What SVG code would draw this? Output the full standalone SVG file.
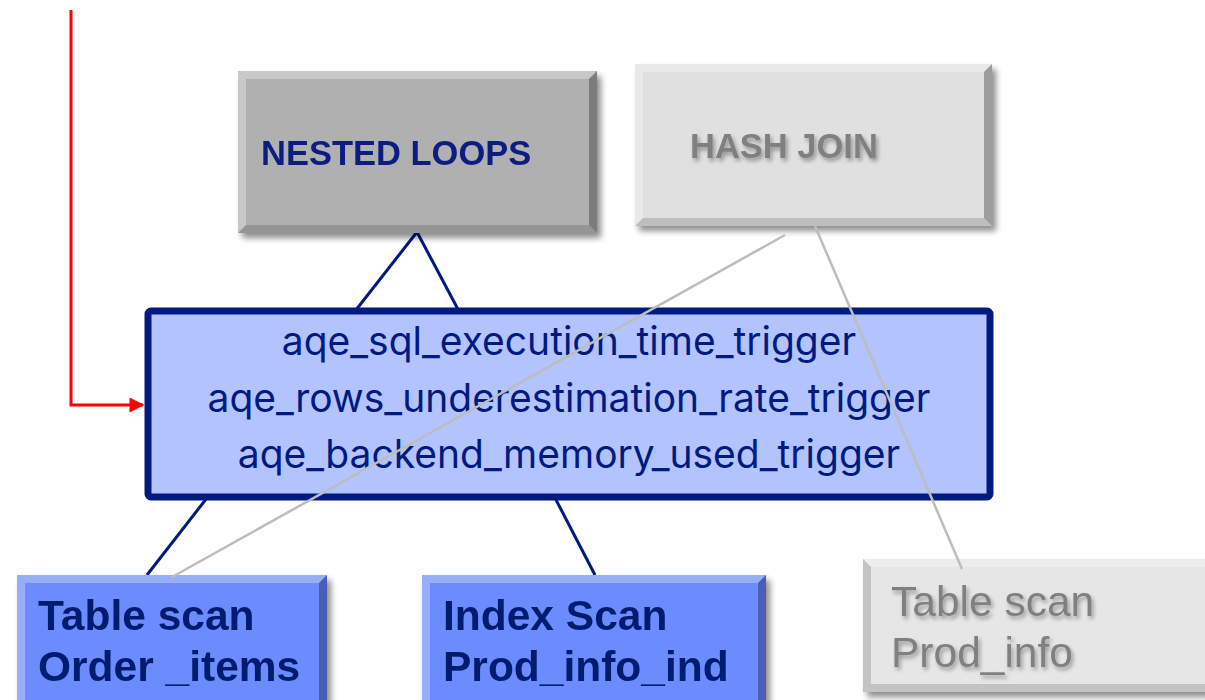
<svg xmlns="http://www.w3.org/2000/svg" width="1205" height="700" viewBox="0 0 1205 700">
  <defs>
    <filter id="drop" x="-10%" y="-10%" width="125%" height="130%">
      <feGaussianBlur in="SourceAlpha" stdDeviation="3"/>
      <feOffset dx="4" dy="5" result="b"/>
      <feComponentTransfer><feFuncA type="linear" slope="0.45"/></feComponentTransfer>
      <feMerge><feMergeNode/><feMergeNode in="SourceGraphic"/></feMerge>
    </filter>
    <filter id="txtshadow" x="-10%" y="-20%" width="125%" height="160%">
      <feGaussianBlur in="SourceAlpha" stdDeviation="2"/>
      <feOffset dx="2" dy="3"/>
      <feComponentTransfer><feFuncA type="linear" slope="0.35"/></feComponentTransfer>
      <feMerge><feMergeNode/><feMergeNode in="SourceGraphic"/></feMerge>
    </filter>
    <marker id="redArrow" viewBox="0 0 10 10" refX="9" refY="5" markerWidth="5.5" markerHeight="5" orient="auto" markerUnits="strokeWidth">
      <path d="M0,0 L10,5 L0,10 z" fill="#FF0000"/>
    </marker>
  </defs>
  <style>
    .navyLine { stroke: #001A80; stroke-width: 3; fill: none; }
    .grayLine { stroke: #BDBDBD; stroke-width: 2.5; fill: none; }
    .hi { fill: #FFFFFF; opacity: 0.3; }
    .lo { fill: #000000; opacity: 0.15; }
    .loDeep { fill: #000000; opacity: 0.3; }
    .opText { font-family: "Liberation Sans", Arial, sans-serif; font-weight: bold; font-size: 34.5px; }
    .trig { font-family: Inter, "Liberation Sans", sans-serif; font-size: 39px; fill: #001A80; text-anchor: middle; }
    .scanText { font-family: "Liberation Sans", Arial, sans-serif; font-weight: bold; font-size: 42.5px; fill: #061A6E; }
    .ghostText { font-family: "Liberation Sans", Arial, sans-serif; font-size: 42.5px; fill: #808080; }
  </style>

  <rect width="1205" height="700" fill="#FFFFFF"/>

  <!-- tree edges below the trigger box -->
  <g id="connectors">
    <line class="navyLine" x1="417" y1="232" x2="352" y2="315"/>
    <line class="navyLine" x1="417" y1="232" x2="461" y2="315"/>
    <line class="navyLine" x1="210" y1="494" x2="147" y2="575"/>
    <line class="navyLine" x1="553" y1="494" x2="595" y2="575"/>
    <path d="M71,10 V405 H143" stroke="#FF0000" stroke-width="3" fill="none" marker-end="url(#redArrow)"/>
  </g>

  <!-- NESTED LOOPS -->
  <g id="node-nested-loops" filter="url(#drop)">
    <rect x="238" y="71" width="359" height="162" fill="#B0B0B0"/>
    <polygon class="hi" points="238,71 597,71 589,79 246,79"/>
    <polygon class="hi" points="238,71 246,79 246,225 238,233"/>
    <polygon class="lo" points="238,233 246,225 589,225 597,233"/>
    <polygon class="loDeep" points="597,71 597,233 589,225 589,79"/>
    <text class="opText" x="261" y="165" fill="#0A1F80">NESTED LOOPS</text>
  </g>

  <!-- HASH JOIN -->
  <g id="node-hash-join" filter="url(#drop)">
    <rect x="635" y="64" width="357" height="162" fill="#E0E0E0"/>
    <polygon class="hi" points="635,64 992,64 984,72 643,72"/>
    <polygon class="hi" points="635,64 643,72 643,218 635,226"/>
    <polygon class="lo" points="635,226 643,218 984,218 992,226"/>
    <polygon class="loDeep" points="992,64 992,226 984,218 984,72"/>
    <text class="opText" x="690" y="158" fill="#808080" filter="url(#txtshadow)">HASH JOIN</text>
  </g>

  <!-- adaptive trigger box -->
  <g id="node-triggers">
    <rect x="148" y="311" width="842" height="186" rx="3" fill="#B3C3FF" stroke="#001A80" stroke-width="7"/>
    <text class="trig" x="569" y="355">aqe_sql_execution_time_trigger</text>
    <text class="trig" x="569" y="412">aqe_rows_underestimation_rate_trigger</text>
    <text class="trig" x="569" y="468">aqe_backend_memory_used_trigger</text>
  </g>

  <!-- Table scan Order _items -->
  <g id="node-table-scan-order-items" filter="url(#drop)">
    <rect x="17" y="575" width="310" height="135" fill="#6A8CFF"/>
    <polygon class="hi" points="17,575 327,575 319,583 25,583"/>
    <polygon class="hi" points="17,575 25,583 25,710 17,710"/>
    <polygon class="loDeep" points="327,575 327,710 319,710 319,583"/>
    <text class="scanText" x="38" y="630">Table scan</text>
    <text class="scanText" x="38" y="681">Order _items</text>
  </g>

  <!-- Index Scan Prod_info_ind -->
  <g id="node-index-scan" filter="url(#drop)">
    <rect x="422" y="575" width="344" height="135" fill="#6A8CFF"/>
    <polygon class="hi" points="422,575 766,575 758,583 430,583"/>
    <polygon class="hi" points="422,575 430,583 430,710 422,710"/>
    <polygon class="loDeep" points="766,575 766,710 758,710 758,583"/>
    <text class="scanText" x="443" y="630">Index Scan</text>
    <text class="scanText" x="443" y="681">Prod_info_ind</text>
  </g>

  <!-- Table scan Prod_info -->
  <g id="node-table-scan-prod-info" filter="url(#drop)">
    <rect x="863" y="559" width="350" height="133" fill="#E6E6E6"/>
    <polygon class="hi" points="863,559 1213,559 1213,567 871,567"/>
    <polygon class="lo" points="863,559 871,567 871,684 863,692"/>
    <polygon class="lo" points="863,692 871,684 1213,684 1213,692"/>
    <text class="ghostText" x="891" y="616" filter="url(#txtshadow)">Table scan</text>
    <text class="ghostText" x="891" y="667" filter="url(#txtshadow)">Prod_info</text>
  </g>

  <!-- hash join edges drawn over everything -->
  <g id="connectors-hash">
    <line class="grayLine" x1="785" y1="235" x2="172" y2="577"/>
    <line class="grayLine" x1="815" y1="226" x2="962" y2="569"/>
  </g>
</svg>
